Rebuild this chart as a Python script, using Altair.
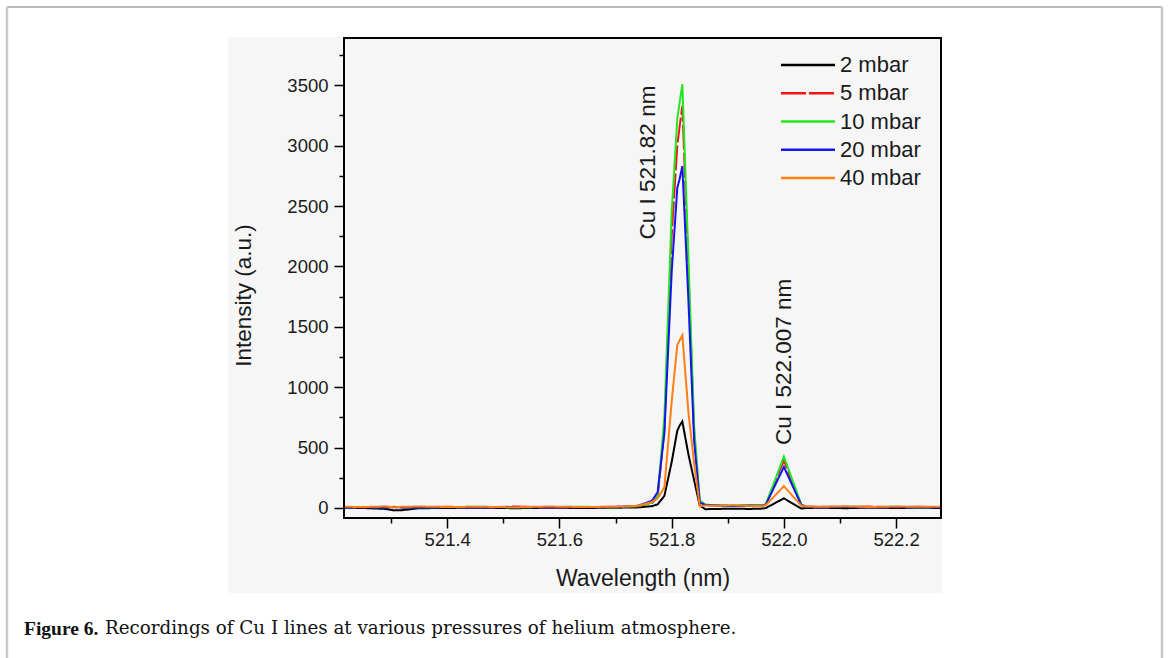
import altair as alt
import pandas as pd

# ---- spectra: Cu I lines recorded at several helium pressures ----
series_names = ["2 mbar", "5 mbar", "10 mbar", "20 mbar", "40 mbar"]
series_colors = ["#000000", "#f01414", "#22e622", "#1414f0", "#ff7f14"]

wavelength = [
    521.216, 521.25, 521.29, 521.305, 521.32, 521.35, 521.40, 521.46, 521.52,
    521.58, 521.64, 521.70, 521.74, 521.765, 521.775, 521.787, 521.800, 521.810,
    521.814, 521.819, 521.830, 521.840, 521.850, 521.860, 521.880, 521.910,
    521.940, 521.962, 521.968, 522.000, 522.031, 522.040, 522.070, 522.110,
    522.150, 522.200, 522.240, 522.280,
]

intensity_2 = [
    2, 0, -8, -20, -18, -2, 0, 3, -2, 2, 0, 2, 5, 15, 30, 100, 380, 640,
    680, 716, 440, 230, 20, -10, -8, -6, -8, -5, 0, 80, -5, 0, 2, -2, 3, 0, 2, 0,
]
intensity_5 = [
    8, 5, 10, 6, 4, 8, 10, 6, 12, 5, 8, 10, 15, 40, 90, 650, 2250, 3000,
    3150, 3330, 1950, 620, 50, 25, 20, 18, 22, 20, 30, 395, 25, 12, 10, 8, 12, 6, 10, 8,
]
intensity_10 = [
    5, 8, 6, 10, 6, 5, 8, 10, 6, 8, 10, 6, 15, 45, 100, 750, 2450, 3220,
    3350, 3508, 2050, 680, 60, 28, 22, 20, 25, 20, 35, 425, 30, 10, 8, 12, 8, 10, 6, 8,
]
intensity_20 = [
    4, 6, 3, 8, 5, 3, 6, 4, 8, 5, 6, 8, 18, 60, 130, 620, 1950, 2650,
    2720, 2830, 1700, 560, 45, 25, 20, 16, 20, 18, 30, 340, 25, 8, 6, 8, 5, 8, 5, 6,
]
intensity_40 = [
    10, 8, 12, 6, 10, 12, 8, 10, 6, 12, 8, 10, 18, 50, 80, 170, 880, 1350,
    1385, 1430, 785, 370, 15, 20, 18, 22, 18, 15, 25, 180, 20, 12, 10, 14, 8, 12, 10, 10,
]

x_major = [521.4, 521.6, 521.8, 522.0, 522.2]
x_minor = [521.3, 521.5, 521.7, 521.9, 522.1]
y_major = [0, 500, 1000, 1500, 2000, 2500, 3000, 3500]
y_minor = [250, 750, 1250, 1750, 2250, 2750, 3250, 3750]

line_labels = ["Cu I 521.82 nm", "Cu I 522.007 nm"]

caption_bold = "Figure 6."
caption_text = "Recordings of Cu I lines at various pressures of helium atmosphere."

# ---- long table for the line mark ----
rows = []
for name, vals in zip(series_names,
                      [intensity_2, intensity_5, intensity_10, intensity_20, intensity_40]):
    for w, v in zip(wavelength, vals):
        rows.append({"series": name, "wavelength": w, "intensity": v})
spectra = pd.DataFrame(rows)

SANS = "Liberation Sans"
TEXT_COLOR = "#1a1a1a"

W, H = 597, 480
PAD = {"left": 344, "top": 38, "right": 1170 - 344 - W, "bottom": 658 - 38 - H}

x_scale = alt.Scale(domain=[521.216, 522.28], nice=False, zero=False)
y_scale = alt.Scale(domain=[-83, 3891], nice=False, zero=False)
color_scale = alt.Scale(domain=series_names, range=series_colors)
dash_scale = alt.Scale(domain=series_names,
                       range=[[1, 0], [25, 3], [1, 0], [1, 0], [1, 0]])

one = pd.DataFrame({"k": [0]})

# page frame around the figure
frame_top = alt.Chart(one).mark_rule(color="#a0a0a0", strokeWidth=1.5).encode(
    x=alt.value(-337), x2=alt.value(818), y=alt.value(-31))
frame_left = alt.Chart(one).mark_rule(color="#c8c8c8", strokeWidth=2.5).encode(
    x=alt.value(-337), y=alt.value(-31), y2=alt.value(640))
frame_right = alt.Chart(one).mark_rule(color="#c8c8c8", strokeWidth=2.5).encode(
    x=alt.value(818), y=alt.value(-31), y2=alt.value(640))

# light grey panel behind the figure artwork
panel = alt.Chart(one).mark_rect(color="#f6f6f6").encode(
    x=alt.value(-116), x2=alt.value(598), y=alt.value(-1), y2=alt.value(555))

# black box around the plotting area
plot_box = alt.Chart(one).mark_rect(fill=None, stroke="black", strokeWidth=2).encode(
    x=alt.value(0), x2=alt.value(W), y=alt.value(0), y2=alt.value(H))

x_axis = alt.Axis(
    orient="bottom", values=x_major, format=".1f", tickSize=10, tickWidth=1.5,
    tickColor="black", domain=False, grid=False, labelFont=SANS, labelFontSize=18.5,
    labelColor=TEXT_COLOR, labelPadding=2, title="Wavelength (nm)", titleFont=SANS,
    titleFontSize=23, titleFontWeight="normal", titleColor=TEXT_COLOR,
    titleX=W / 2, titleY=60, titleBaseline="middle", titleAlign="center", zindex=2,
)
y_axis = alt.Axis(
    orient="left", values=y_major, format="d", tickSize=10, tickWidth=1.5,
    tickColor="black", domain=False, grid=False, labelFont=SANS, labelFontSize=18.5,
    labelColor=TEXT_COLOR, labelPadding=6, title="Intensity (a.u.)", titleFont=SANS,
    titleFontSize=22.5, titleFontWeight="normal", titleColor=TEXT_COLOR,
    titleX=-101, titleY=257, titleAngle=270, titleBaseline="middle", titleAlign="center",
    zindex=2,
)

lines = alt.Chart(spectra).mark_line(strokeWidth=2, clip=True).encode(
    x=alt.X("wavelength:Q", scale=x_scale, axis=x_axis),
    y=alt.Y("intensity:Q", scale=y_scale, axis=y_axis),
    color=alt.Color("series:N", scale=color_scale, legend=None),
    strokeDash=alt.StrokeDash("series:N", scale=dash_scale, legend=None),
)

# minor ticks on the same scales
minor = alt.Chart(spectra).mark_point(opacity=0).encode(
    x=alt.X("wavelength:Q", scale=x_scale,
            axis=alt.Axis(orient="bottom", values=x_minor, labels=False, tickSize=5,
                          tickWidth=1.5, tickColor="black", domain=False, grid=False,
                          title="", zindex=2)),
    y=alt.Y("intensity:Q", scale=y_scale,
            axis=alt.Axis(orient="left", values=y_minor, labels=False, tickSize=5,
                          tickWidth=1.5, tickColor="black", domain=False, grid=False,
                          title="", zindex=2)),
)

# rotated line identifications
annotations = pd.DataFrame({
    "label": line_labels,
    "wavelength": [521.757, 522.0],
    "intensity": [2860, 1209],
})
ann = alt.Chart(annotations).mark_text(
    angle=270, align="center", baseline="middle", font=SANS, fontSize=22.5,
    color=TEXT_COLOR,
).encode(
    x=alt.X("wavelength:Q", scale=x_scale, axis=None),
    y=alt.Y("intensity:Q", scale=y_scale, axis=None),
    text="label:N",
)

# legend in the upper right of the plot
legend_layers = []
LEG_X0, LEG_X1, LEG_TX, LEG_Y0, LEG_STEP = 437, 491, 496, 27, 28.25
for i, (name, col) in enumerate(zip(series_names, series_colors)):
    ly = LEG_Y0 + i * LEG_STEP
    dash = [25, 3] if name == "5 mbar" else [1, 0]
    legend_layers.append(
        alt.Chart(one).mark_rule(strokeWidth=2.5, color=col, strokeDash=dash).encode(
            x=alt.value(LEG_X0), x2=alt.value(LEG_X1), y=alt.value(ly)))
    legend_layers.append(
        alt.Chart(one).mark_text(align="left", baseline="middle", font=SANS,
                                 fontSize=22, color=TEXT_COLOR, text=name).encode(
            x=alt.value(LEG_TX), y=alt.value(ly)))

# figure caption
cap_y = 591
cap1 = alt.Chart(one).mark_text(align="left", baseline="middle", font="Liberation Serif",
                                fontSize=19.5, fontWeight="bold", color="#111",
                                text=caption_bold).encode(
    x=alt.value(-320), y=alt.value(cap_y))
cap2 = alt.Chart(one).mark_text(align="left", baseline="middle", font="DejaVu Serif",
                                fontSize=18.3, color="#111", text=caption_text).encode(
    x=alt.value(-320 + 81), y=alt.value(cap_y))

chart = alt.layer(
    frame_top, frame_left, frame_right, panel, lines, minor, ann, plot_box,
    *legend_layers, cap1, cap2,
).resolve_axis(
    x="independent", y="independent"
).properties(
    width=W, height=H, padding=PAD,
    autosize=alt.AutoSizeParams(type="none"),
    background="white",
).configure_view(
    stroke=None,
)

chart.save("out.html", embed_options={"renderer": "svg", "actions": False})
